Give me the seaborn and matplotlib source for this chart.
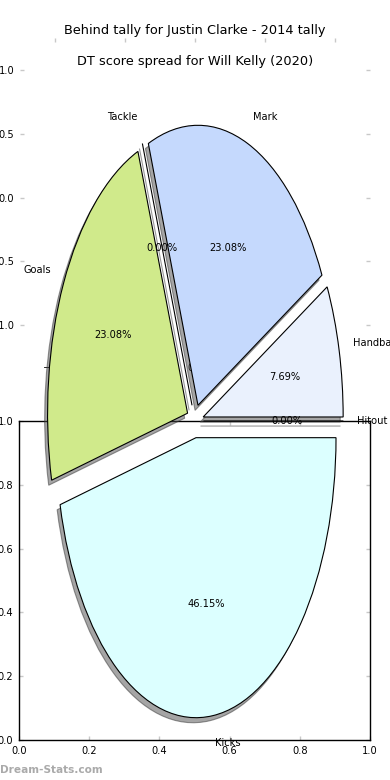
import matplotlib
matplotlib.use("Agg")
import matplotlib.pyplot as plt
import seaborn as sns

# DATA
labels = ["Handball", "Mark", "Tackle", "Goals", "Kicks", "Hitout"]
counts = [1, 3, 0, 3, 6, 0]
colors = ["#eaf1fd", "#c5d9fd", "#ffffff", "#d0ea8b", "#dcffff", "#ffffff"]
top_title = "Behind tally for Justin Clarke - 2014 tally"
pie_title = "DT score spread for Will Kelly (2020)"
pie_ticks = [-1.0, -0.5, 0.0, 0.5, 1.0]
box_ticks = [0.0, 0.2, 0.4, 0.6, 0.8, 1.0]

sns.set_theme(style="white")
plt.rcParams["font.family"] = ["DejaVu Sans"]
plt.rcParams["text.color"] = "black"
plt.rcParams["axes.titlecolor"] = "black"

fig = plt.figure(figsize=(3.9, 7.8), dpi=100)

tick_kw = dict(direction="in", length=3, width=1, color="#c8c8c8",
               labelsize=7.1, labelcolor="black", pad=4,
               top=True, right=True, bottom=True, left=True)

# 1. EMPTY FIRST PIE AXES (only ticks left over)
ax1 = fig.add_axes([20 / 390, 1 - 357 / 780, 350 / 390, 319 / 780])
ax1.set_xlim(-1.25, 1.25)
ax1.set_ylim(-1.25, 1.25)
ax1.set_xticks(pie_ticks)
ax1.set_yticks(pie_ticks)
ax1.tick_params(**tick_kw)
for s in ax1.spines.values():
    s.set_visible(False)
ax1.patch.set_visible(False)
ax1.set_title(top_title, fontsize=9.3, pad=3)

# 2. LOWER BOX AXES
ax2 = fig.add_axes([19 / 390, 1 - 740 / 780, 351 / 390, 319 / 780])
ax2.set_xlim(0, 1)
ax2.set_ylim(0, 1)
ax2.set_xticks(box_ticks)
ax2.set_yticks(box_ticks)
ax2.tick_params(**tick_kw)
for s in ax2.spines.values():
    s.set_visible(True)
    s.set_color("black")
    s.set_linewidth(1)

# 3. STRETCHED PIE
ax3 = fig.add_axes([20 / 390, 1 - 771 / 780, 350 / 390, 700 / 780])
ax3.patch.set_visible(False)
wedges, texts, autotexts = ax3.pie(
    counts,
    labels=labels,
    colors=colors,
    explode=[0.06] * len(counts),
    autopct="%1.2f%%",
    shadow={"ox": -0.015, "oy": -0.013, "facecolor": "0.3",
            "edgecolor": "0.2", "alpha": 0.5},
    wedgeprops={"edgecolor": "black", "linewidth": 0.8},
    textprops={"fontsize": 7.1, "color": "black"},
)
ax3.set_aspect("auto")
ax3.set_xlim(-1.25, 1.25)
ax3.set_ylim(-1.25, 1.25)
ax3.set_axis_off()
ax3.set_title(pie_title, fontsize=9.3, pad=4.5)

fig.text(0.0, 1 - 770 / 780, "Dream-Stats.com", fontsize=7.6,
         fontweight="bold", color="#aaaaaa", va="center", ha="left")

fig.savefig("out.png", dpi=100)
